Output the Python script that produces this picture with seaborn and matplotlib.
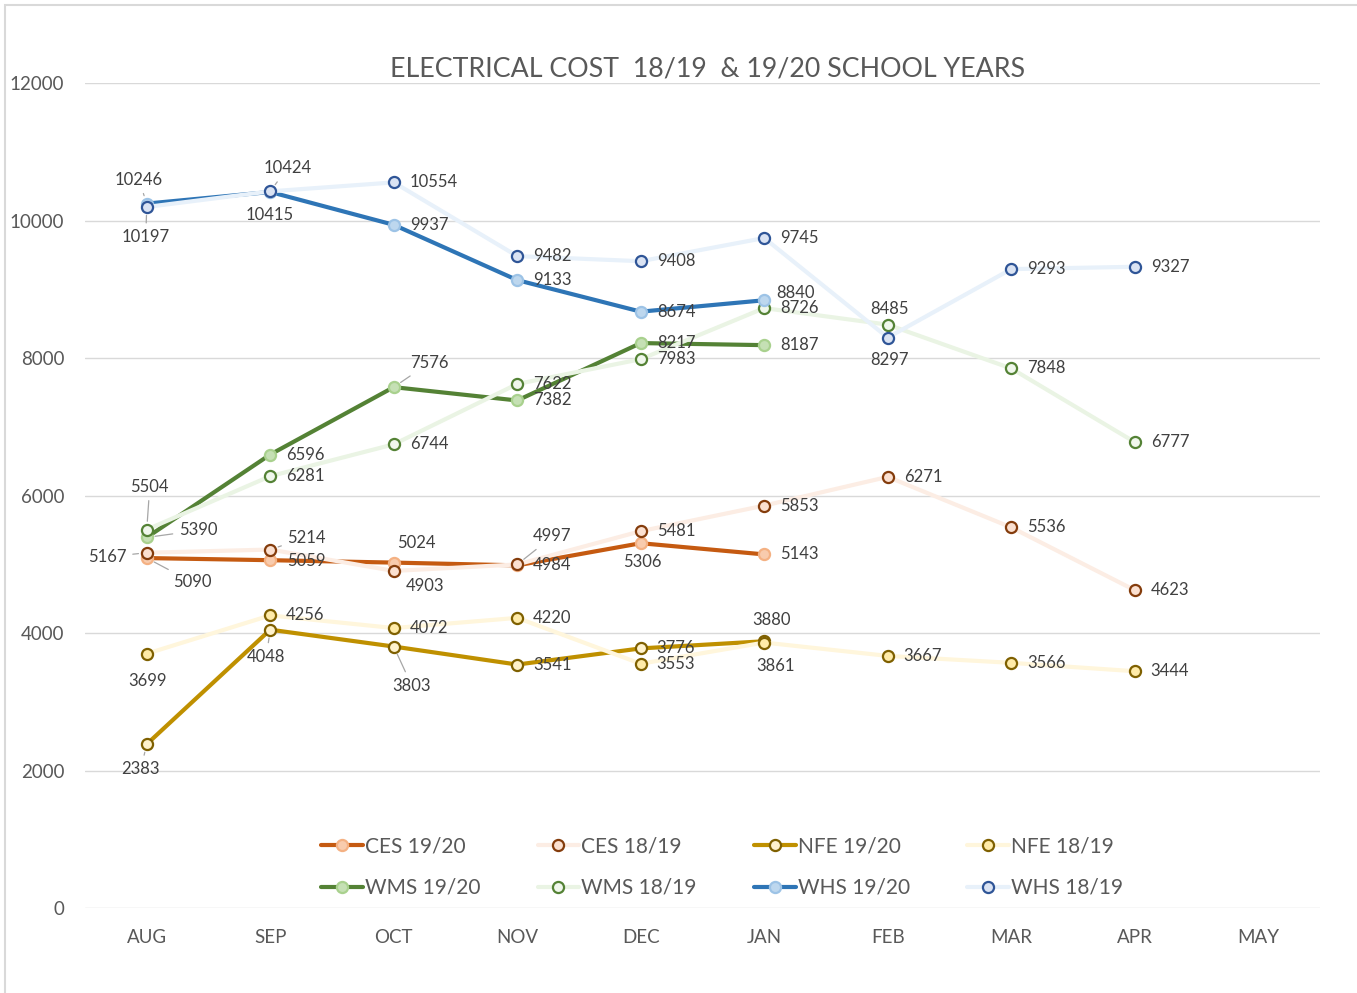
import matplotlib
matplotlib.use("Agg")
import matplotlib.pyplot as plt
import seaborn as sns
import pandas as pd
from matplotlib.patches import Rectangle
from matplotlib.lines import Line2D

# ---------------- data ----------------
months = ["AUG", "SEP", "OCT", "NOV", "DEC", "JAN", "FEB", "MAR", "APR", "MAY"]

ces_1920 = [5090, 5059, 5024, 4984, 5306, 5143]
ces_1819 = [5167, 5214, 4903, 4997, 5481, 5853, 6271, 5536, 4623]
nfe_1920 = [2383, 4048, 3803, 3541, 3776, 3880]
nfe_1819 = [3699, 4256, 4072, 4220, 3553, 3861, 3667, 3566, 3444]
wms_1920 = [5390, 6596, 7576, 7382, 8217, 8187]
wms_1819 = [5504, 6281, 6744, 7622, 7983, 8726, 8485, 7848, 6777]
whs_1920 = [10246, 10415, 9937, 9133, 8674, 8840]
whs_1819 = [10197, 10424, 10554, 9482, 9408, 9745, 8297, 9293, 9327]

series_names = ["CES 19/20", "CES 18/19", "NFE 19/20", "NFE 18/19",
                "WMS 19/20", "WMS 18/19", "WHS 19/20", "WHS 18/19"]
series_values = [ces_1920, ces_1819, nfe_1920, nfe_1819,
                 wms_1920, wms_1819, whs_1920, whs_1819]

title = "ELECTRICAL COST  18/19  & 19/20 SCHOOL YEARS"

# ---------------- styles ----------------
styles = {
    "CES 19/20": dict(line="#C55A11", face="#F8CBAD", edge="#F4B183"),
    "CES 18/19": dict(line="#FCEDE4", face="#FBE0D0", edge="#843C0C"),
    "NFE 19/20": dict(line="#BF9000", face="#FFF2CC", edge="#7F6000"),
    "NFE 18/19": dict(line="#FFF6DC", face="#FFEBA8", edge="#7F6000"),
    "WMS 19/20": dict(line="#548235", face="#C5E0B4", edge="#A9D18E"),
    "WMS 18/19": dict(line="#EAF4E4", face="#F0F7EC", edge="#548235"),
    "WHS 19/20": dict(line="#2E75B6", face="#BDD7EE", edge="#9DC3E6"),
    "WHS 18/19": dict(line="#E8F1FA", face="#DAE3F3", edge="#2F5597"),
}

# label placement: (dx px, dy px (positive = down), ha, leader)
default_pos = (16, 0, "left", False)
label_pos = {
    ("CES 19/20", 0): (26, 24, "left", True),
    ("CES 19/20", 1): (17, 1, "left", False),
    ("CES 19/20", 2): (23, -20, "center", False),
    ("CES 19/20", 4): (2, 19, "center", False),
    ("CES 18/19", 0): (-20, 4, "right", True),
    ("CES 18/19", 1): (17, -12, "left", True),
    ("CES 18/19", 2): (31, 15, "center", False),
    ("CES 18/19", 3): (16, -28, "left", True),
    ("NFE 19/20", 0): (-6, 25, "center", True),
    ("NFE 19/20", 1): (-4, 27, "center", True),
    ("NFE 19/20", 2): (18, 39, "center", True),
    ("NFE 19/20", 5): (7, -21, "center", False),
    ("NFE 18/19", 0): (1, 27, "center", False),
    ("NFE 18/19", 5): (11, 23, "center", False),
    ("WMS 19/20", 0): (32, -7, "left", True),
    ("WMS 19/20", 2): (16, -24, "left", True),
    ("WMS 18/19", 0): (3, -43, "center", True),
    ("WMS 18/19", 6): (2, -16, "center", False),
    ("WHS 19/20", 0): (-8, -24, "center", True),
    ("WHS 19/20", 1): (-1, 23, "center", False),
    ("WHS 19/20", 5): (12, -7, "left", False),
    ("WHS 18/19", 0): (-1, 30, "center", True),
    ("WHS 18/19", 1): (17, -23, "center", True),
    ("WHS 18/19", 6): (2, 22, "center", False),
}

sns.set_theme(style="white")
FONT = ["Lato", "DejaVu Sans"]
plt.rcParams["font.family"] = FONT
TXT = "#595959"

fig = plt.figure(figsize=(13.57, 9.93), dpi=100, facecolor="white")
ax = fig.add_axes([85 / 1357, 1 - 908 / 993, (1320 - 85) / 1357, (908 - 83) / 993])
ax.set_facecolor("white")

# chart border
fig.patches.append(Rectangle((5 / 1357, -0.1), 1.2, 1 - 5 / 993 + 0.1,
                             transform=fig.transFigure, fill=False,
                             edgecolor="#D9D9D9", linewidth=1.5, zorder=0))

handles = []
for k, (name, vals) in enumerate(zip(series_names, series_values)):
    st = styles[name]
    df = pd.DataFrame({"x": list(range(len(vals))), "y": vals})
    sns.lineplot(data=df, x="x", y="y", ax=ax, color=st["line"], linewidth=3.0,
                 marker="o", markersize=8, markerfacecolor=st["face"],
                 markeredgecolor=st["edge"], markeredgewidth=1.6,
                 sort=False, zorder=2 + k)
    handles.append(Line2D([0], [0], color=st["line"], linewidth=3.0, marker="o",
                          markersize=8, markerfacecolor=st["face"],
                          markeredgecolor=st["edge"], markeredgewidth=1.6))
    for i, v in enumerate(vals):
        dx, dy, ha, leader = label_pos.get((name, i), default_pos)
        ap = None
        if leader:
            ap = dict(arrowstyle="-", color="#A6A6A6", lw=0.9,
                      shrinkA=2, shrinkB=6)
        ax.annotate(f"{v}", xy=(i, v), xytext=(dx, -dy),
                    textcoords="offset pixels", ha=ha, va="center",
                    fontsize=12, color="#404040", arrowprops=ap, zorder=20)

ax.set_xlim(-0.5, len(months) - 0.5)
ax.set_ylim(0, 12000)
ax.set_xticks(range(len(months)))
ax.set_xticklabels(months)
ax.set_yticks(range(0, 12001, 2000))
ax.set_xlabel("")
ax.set_ylabel("")
ax.tick_params(axis="x", length=0, pad=15, labelsize=13.5, labelcolor=TXT)
ax.tick_params(axis="y", length=0, pad=15, labelsize=13.5, labelcolor=TXT)
ax.yaxis.grid(True, color="#D9D9D9", linewidth=1.0)
ax.xaxis.grid(False)
for sp in ax.spines.values():
    sp.set_visible(False)

# legend in row-major order
order = [0, 4, 1, 5, 2, 6, 3, 7]
leg = ax.legend([handles[i] for i in order], [series_names[i] for i in order],
                ncol=4, loc="center", bbox_to_anchor=((722 - 85) / 1235, (908 - 867) / 825),
                frameon=False, fontsize=15, labelcolor=TXT, handlelength=2.0,
                handletextpad=0.1, columnspacing=2.75, labelspacing=1.05)

fig.text(708 / 1357, 1 - 69 / 993, title, ha="center", va="center",
         fontsize=19.3, color=TXT)

fig.savefig("out.png", dpi=100, facecolor="white")
